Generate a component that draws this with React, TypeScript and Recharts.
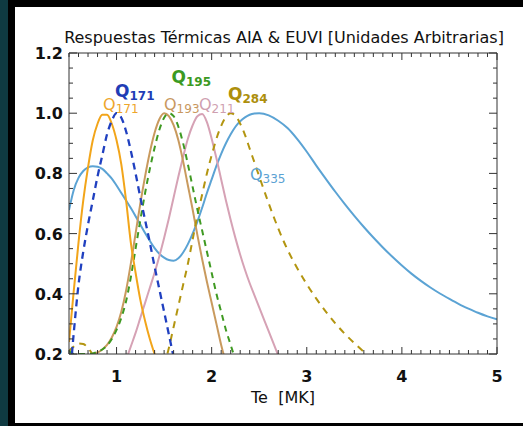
import React from 'react';
import { LineChart, Line, XAxis, YAxis, ReferenceDot } from 'recharts';

const N = null;

// Temperature grid (MK)
const te = [
  0.5, 0.55, 0.6, 0.65, 0.7, 0.75, 0.8, 0.85, 0.9, 0.95,
  1.0, 1.05, 1.1, 1.15, 1.2, 1.25, 1.3, 1.35, 1.4, 1.45,
  1.5, 1.55, 1.6, 1.65, 1.7, 1.75, 1.8, 1.85, 1.9, 1.95,
  2.0, 2.05, 2.1, 2.15, 2.2, 2.25, 2.3, 2.35, 2.4, 2.45, 2.5,
  2.6, 2.7, 2.8, 2.9, 3.0, 3.1, 3.2, 3.3, 3.4, 3.5, 3.6, 3.7, 3.8, 3.9,
  4.0, 4.1, 4.2, 4.3, 4.4, 4.5, 4.6, 4.7, 4.8, 4.9, 5.0,
];

// AIA 171 (orange solid)
const q171Aia = [
  0.24, 0.41, 0.57, 0.71, 0.82, 0.91, 0.965, 0.995, 0.995, 0.965,
  0.91, 0.83, 0.71, 0.57, 0.47, 0.38, 0.31, 0.25, 0.2, 0.155,
  0.12, N, N, N, N, N, N, N, N, N,
  N, N, N, N, N, N, N, N, N, N, N,
  N, N, N, N, N, N, N, N, N, N, N, N, N, N,
  N, N, N, N, N, N, N, N, N, N, N,
];

// EUVI 171 (blue dashed)
const q171Euvi = [
  0.08, 0.27, 0.43, 0.54, 0.63, 0.71, 0.79, 0.86, 0.93, 0.975,
  1.0, 0.985, 0.94, 0.875, 0.8, 0.72, 0.645, 0.57, 0.49, 0.415,
  0.34, 0.265, 0.19, 0.12, N, N, N, N, N, N,
  N, N, N, N, N, N, N, N, N, N, N,
  N, N, N, N, N, N, N, N, N, N, N, N, N, N,
  N, N, N, N, N, N, N, N, N, N, N,
];

// EUVI 195 (green dashed)
const q195 = [
  0.21, 0.2, 0.2, 0.2, 0.2, 0.202, 0.207, 0.215, 0.228, 0.25,
  0.28, 0.32, 0.375, 0.455, 0.55, 0.645, 0.735, 0.815, 0.885, 0.945,
  0.985, 1.0, 0.99, 0.955, 0.9, 0.83, 0.755, 0.68, 0.61, 0.54,
  0.47, 0.4, 0.34, 0.28, 0.23, 0.18, 0.13, N, N, N, N,
  N, N, N, N, N, N, N, N, N, N, N, N, N, N,
  N, N, N, N, N, N, N, N, N, N, N,
];

// AIA 193 (tan solid)
const q193 = [
  N, N, N, 0.165, 0.19, 0.2, 0.205, 0.215, 0.23, 0.255,
  0.29, 0.34, 0.41, 0.5, 0.6, 0.7, 0.79, 0.87, 0.935, 0.98,
  1.0, 0.99, 0.96, 0.91, 0.84, 0.76, 0.68, 0.595, 0.515, 0.44,
  0.37, 0.3, 0.23, 0.17, N, N, N, N, N, N, N,
  N, N, N, N, N, N, N, N, N, N, N, N, N, N,
  N, N, N, N, N, N, N, N, N, N, N,
];

// AIA 211 (pink solid)
const q211 = [
  N, N, N, N, N, N, N, N, N, N,
  N, N, 0.18, 0.225, 0.27, 0.32, 0.37, 0.42, 0.47, 0.525,
  0.585, 0.65, 0.72, 0.79, 0.855, 0.915, 0.96, 0.99, 0.997, 0.97,
  0.915, 0.85, 0.78, 0.71, 0.645, 0.585, 0.53, 0.48, 0.435, 0.395, 0.355,
  0.275, 0.195, N, N, N, N, N, N, N, N, N, N, N, N,
  N, N, N, N, N, N, N, N, N, N, N,
];

// EUVI 284 (olive dashed)
const q284 = [
  0.21, 0.225, 0.235, 0.233, 0.22, 0.198, 0.175, N, N, N,
  N, N, N, N, N, N, N, N, N, N,
  0.16, 0.22, 0.29, 0.36, 0.43, 0.5, 0.58, 0.66, 0.73, 0.8,
  0.86, 0.915, 0.958, 0.988, 1.0, 0.992, 0.965, 0.928, 0.882, 0.836, 0.79,
  0.7, 0.617, 0.545, 0.485, 0.432, 0.384, 0.341, 0.302, 0.267, 0.236, 0.207, 0.18, N, N,
  N, N, N, N, N, N, N, N, N, N, N,
];

// AIA 335 (light blue solid)
const q335 = [
  0.678, 0.745, 0.785, 0.808, 0.82, 0.824, 0.822, 0.815, 0.8, 0.783,
  0.76, 0.735, 0.71, 0.685, 0.658, 0.63, 0.602, 0.576, 0.552, 0.533,
  0.52, 0.512, 0.51, 0.518, 0.537, 0.565, 0.6, 0.64, 0.686, 0.735,
  0.78, 0.825, 0.865, 0.9, 0.93, 0.955, 0.973, 0.986, 0.995, 0.999, 1.0,
  0.993, 0.975, 0.95, 0.914, 0.872, 0.826, 0.782, 0.739, 0.698, 0.659, 0.622, 0.587, 0.554, 0.523,
  0.494, 0.467, 0.443, 0.421, 0.401, 0.383, 0.366, 0.351, 0.337, 0.325, 0.315,
];

const xMajor = [1, 2, 3, 4, 5];
const yMajor = [0.2, 0.4, 0.6, 0.8, 1.0, 1.2];
const xTicks = Array.from({ length: 46 }, (_, i) => Math.round((0.5 + i * 0.1) * 100) / 100);
const yTicks = Array.from({ length: 21 }, (_, i) => Math.round((0.2 + i * 0.05) * 100) / 100);

const titleText = 'Respuestas Térmicas AIA & EUVI [Unidades Arbitrarias]';
const xLabelText = 'Te\u00a0 [MK]';

// Curve labels: anchor (Q baseline) in data units
const curveLabels = [
  { x: 0.984, y: 1.055, sub: '171', color: '#1f3db6', bold: true },
  { x: 0.858, y: 1.011, sub: '171', color: '#eea62a', bold: false },
  { x: 1.578, y: 1.099, sub: '195', color: '#3b9a22', bold: true },
  { x: 1.499, y: 1.011, sub: '193', color: '#c8985e', bold: false },
  { x: 1.867, y: 1.011, sub: '211', color: '#cf9fb0', bold: false },
  { x: 2.172, y: 1.044, sub: '284', color: '#ad8f0c', bold: true },
  { x: 2.403, y: 0.778, sub: '335', color: '#5aa2d3', bold: false },
];

const data = te.map((x, i) => ({
  x,
  a171: q171Aia[i],
  e171: q171Euvi[i],
  e195: q195[i],
  a193: q193[i],
  a211: q211[i],
  e284: q284[i],
  a335: q335[i],
}));

const FONT = '"DejaVu Sans", Verdana, sans-serif';
const AX = '#333';
const TXT = '#111';

const isIn = (arr: number[], v: number) => arr.some((m) => Math.abs(m - v) < 1e-6);

const series = [
  { key: 'a335', color: '#5ba3d4', dash: undefined, w: 2 },
  { key: 'a211', color: '#d6a2b5', dash: undefined, w: 2 },
  { key: 'a193', color: '#c99a5e', dash: undefined, w: 2 },
  { key: 'e284', color: '#b39510', dash: '7 6', w: 2 },
  { key: 'e195', color: '#3f9a22', dash: '6 5', w: 2 },
  { key: 'a171', color: '#f2a51a', dash: undefined, w: 2 },
  { key: 'e171', color: '#2040c0', dash: '7 5', w: 2.3 },
];

const BottomTick = (p: any) => {
  const v = p.payload.value;
  const major = isIn(xMajor, v);
  return (
    <g>
      <line x1={p.x} y1={p.y} x2={p.x} y2={p.y - (major ? 7 : 4)} stroke={AX} strokeWidth={1} />
      {major && (
        <text x={p.x} y={p.y + 28} textAnchor="middle" fontFamily={FONT} fontSize={16} fontWeight="bold" fill={TXT}>{v}</text>
      )}
    </g>
  );
};

const TopTick = (p: any) => {
  const major = isIn(xMajor, p.payload.value);
  return <line x1={p.x} y1={p.y} x2={p.x} y2={p.y + (major ? 7 : 4)} stroke={AX} strokeWidth={1} />;
};

const LeftTick = (p: any) => {
  const v = p.payload.value;
  const major = isIn(yMajor, v);
  return (
    <g>
      <line x1={p.x} y1={p.y} x2={p.x + (major ? 8 : 4)} y2={p.y} stroke={AX} strokeWidth={1} />
      {major && (
        <text x={p.x - 6} y={p.y + 6} textAnchor="end" fontFamily={FONT} fontSize={16} fontWeight="bold" fill={TXT}>{v.toFixed(1)}</text>
      )}
    </g>
  );
};

const RightTick = (p: any) => {
  const major = isIn(yMajor, p.payload.value);
  return <line x1={p.x} y1={p.y} x2={p.x - (major ? 8 : 4)} y2={p.y} stroke={AX} strokeWidth={1} />;
};

const W = 20;

export default function App() {
  return (
    <div style={{ position: 'absolute', left: 0, top: 0, width: 523, height: 426, background: '#000', overflow: 'hidden' }}>
      <div style={{ position: 'absolute', left: 0, top: 0, width: 8, height: 426, background: '#0f3a41' }} />
      <div style={{ position: 'absolute', left: 15, top: 7, width: 508, height: 416, background: '#fff' }} />
      <div style={{ position: 'absolute', left: 0, top: 0 }}>
        <LineChart width={523} height={426} data={data}
          margin={{ top: 53 - W, right: 26 - W, bottom: 72 - W, left: 69 - W }}>
          <XAxis xAxisId="b" dataKey="x" type="number" domain={[0.5, 5]} allowDataOverflow ticks={xTicks} interval={0}
            orientation="bottom" height={W} tickSize={0} tickMargin={0}
            axisLine={{ stroke: AX }} tickLine={false} tick={<BottomTick />} />
          <XAxis xAxisId="t" dataKey="x" type="number" domain={[0.5, 5]} allowDataOverflow ticks={xTicks} interval={0}
            orientation="top" height={W} tickSize={0} tickMargin={0}
            axisLine={{ stroke: AX }} tickLine={false} tick={<TopTick />} />
          <YAxis yAxisId="l" type="number" domain={[0.2, 1.2]} allowDataOverflow ticks={yTicks} interval={0}
            orientation="left" width={W} tickSize={0} tickMargin={0}
            axisLine={{ stroke: AX }} tickLine={false} tick={<LeftTick />} />
          <YAxis yAxisId="r" type="number" domain={[0.2, 1.2]} allowDataOverflow ticks={yTicks} interval={0}
            orientation="right" width={W} tickSize={0} tickMargin={0}
            axisLine={{ stroke: AX }} tickLine={false} tick={<RightTick />} />
          {series.map((s) => (
            <Line key={s.key} xAxisId="b" yAxisId="l" type="monotone" dataKey={s.key} stroke={s.color}
              strokeWidth={s.w} strokeDasharray={s.dash} dot={false} activeDot={false}
              connectNulls={false} isAnimationActive={false} />
          ))}
          {curveLabels.map((l, i) => (
            <ReferenceDot key={i} xAxisId="b" yAxisId="l" x={l.x} y={l.y} r={0} ifOverflow="visible"
              shape={(p: any) => (
                <text x={p.cx} y={p.cy} fill={l.color} fontFamily={FONT}
                  fontWeight={l.bold ? 'bold' : 'normal'}>
                  <tspan fontSize={l.bold ? 17 : 16}>Q</tspan>
                  <tspan fontSize={12} dy={3}>{l.sub}</tspan>
                </text>
              )} />
          ))}
        </LineChart>
      </div>
      <svg width={523} height={426} style={{ position: 'absolute', left: 0, top: 0, pointerEvents: 'none' }}>
        <text x={284} y={42.5} textAnchor="middle" fontFamily={FONT} fontSize={16} fill={TXT}>{titleText}</text>
        <text x={283} y={403} textAnchor="middle" fontFamily={FONT} fontSize={16} fill={TXT}>{xLabelText}</text>
      </svg>
    </div>
  );
}
